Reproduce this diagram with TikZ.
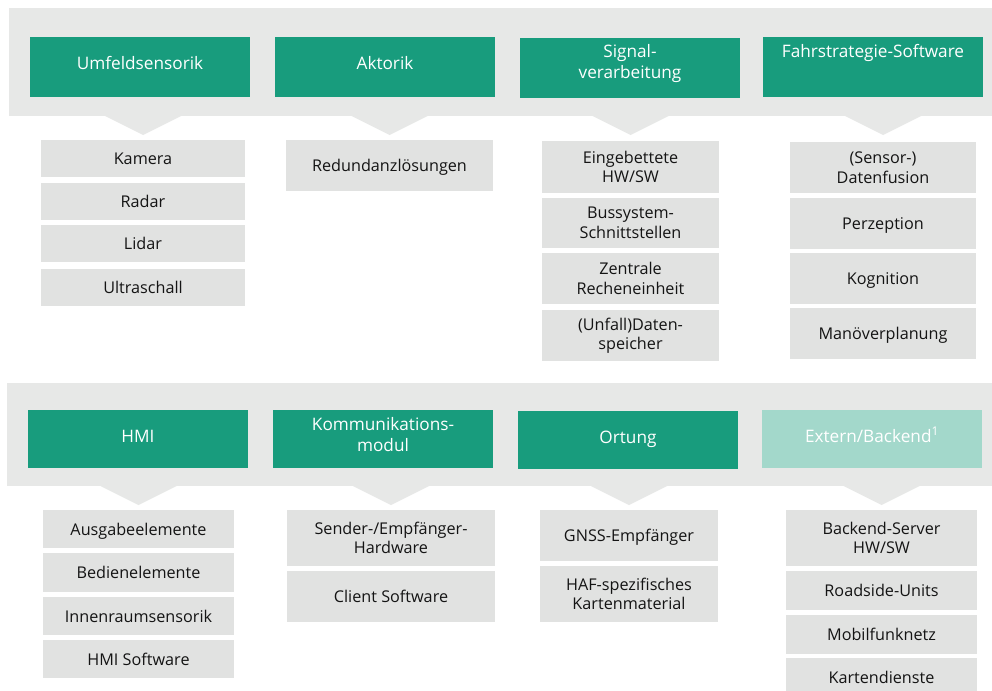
\documentclass[tikz,border=0pt]{standalone}
\usepackage{fontspec}
\setmainfont{Open Sans}
\usetikzlibrary{calc}
\definecolor{bandgray}{RGB}{231,232,231}
\definecolor{itemgray}{RGB}{225,226,225}
\definecolor{headgreen}{RGB}{24,156,125}
\definecolor{headlight}{RGB}{163,216,203}
\definecolor{itemtext}{RGB}{20,20,20}
\tikzset{
  band/.style={fill=bandgray, draw=none, inner sep=0pt, outer sep=0pt, anchor=north west},
  headfont/.style={font=\fontsize{17.2}{20.5}\selectfont},
  head/.style={fill=headgreen, draw=none, text=white, inner sep=0pt, outer sep=0pt,
    anchor=north west, minimum width=220pt, align=center, headfont,
    text height=12pt, text depth=6pt},
  headext/.style={head, fill=headlight},
  headtext/.style={text=white, inner sep=0pt, align=center, headfont},
  item/.style={fill=itemgray, draw=none, text=itemtext, inner sep=0pt, outer sep=0pt,
    anchor=north west, align=center, font=\fontsize{16.2}{19.5}\selectfont},
  oneline/.style={text height=12pt, text depth=0pt},
}
% downward pointer below a band, centred over a column of items
\newcommand\drawpointer[2]{%
  \fill[bandgray] ($(#1.south -| #2.north)+(-38,0)$) -- ($(#1.south -| #2.north)+(38,0)$)
    -- ($(#1.south -| #2.north)+(0,19)$) -- cycle;}
\begin{document}
\begin{tikzpicture}[x=1pt,y=-1pt]
\useasboundingbox[fill=white] (0,0) rectangle (992,690);

% ---------- upper group ----------
\node[band, minimum width=983pt, minimum height=108pt] (topband) at (9,8) {};
\node[head, minimum height=60pt] (umfeld) at (30,37) {Umfeldsensorik};
\node[head, minimum height=60pt] (aktorik) at (275,37) {Aktorik};
\node[head, minimum height=60pt] (signal) at (520,38) {};
\node[headtext] (signaltext) at ($(signal.center)+(0,-4.5)$) {Signal-\\verarbeitung};
\node[head, minimum height=60pt, text depth=30pt] (fahr) at (763,37) {Fahrstrategie-Software};

% Umfeldsensorik items
\node[item, oneline, minimum width=204pt, minimum height=37pt] (kamera) at (41,140) {Kamera};
\node[item, oneline, minimum width=204pt, minimum height=37pt] (radar) at (41,183) {Radar};
\node[item, oneline, minimum width=204pt, minimum height=37pt] (lidar) at (41,225) {Lidar};
\node[item, oneline, minimum width=204pt, minimum height=37pt] (ultra) at (41,269) {Ultraschall};

% Aktorik items
\node[item, oneline, minimum width=207pt, minimum height=51pt] (redund) at (286,140) {Redundanzlösungen};

% Signalverarbeitung items
\node[item, minimum width=177pt, minimum height=52pt] (eingeb) at (542,141) {Eingebettete\\HW/SW};
\node[item, minimum width=177pt, minimum height=50pt] (bus) at (542,198) {Bussystem-\\Schnittstellen};
\node[item, minimum width=177pt, minimum height=51pt] (zentral) at (542,253) {Zentrale\\Recheneinheit};
\node[item, minimum width=177pt, minimum height=51pt] (unfall) at (542,310) {(Unfall)Daten-\\speicher};

% Fahrstrategie items
\node[item, minimum width=186pt, minimum height=51pt] (fusion) at (790,142) {(Sensor-)\\Datenfusion};
\node[item, oneline, minimum width=186pt, minimum height=51pt] (perz) at (790,198) {Perzeption};
\node[item, oneline, minimum width=186pt, minimum height=51pt] (kogn) at (790,253) {Kognition};
\node[item, oneline, minimum width=186pt, minimum height=51pt] (manoev) at (790,308) {Manöverplanung};

\drawpointer{topband}{kamera}
\drawpointer{topband}{redund}
\drawpointer{topband}{eingeb}
\drawpointer{topband}{fusion}

% ---------- lower group ----------
\node[band, minimum width=985pt, minimum height=103pt] (botband) at (7,383) {};
\node[head, minimum height=58pt] (hmi) at (28,410) {HMI};
\node[head, minimum height=58pt] (komm) at (273,410) {};
\node[headtext] (kommtext) at ($(komm.center)+(0,-4.5)$) {Kommunikations-\\modul};
\node[head, minimum height=58pt] (ortung) at (518,411) {Ortung};
\node[headext, minimum height=58pt] (extern) at (762,410) {Extern/Backend\textsuperscript{1}};

% HMI items
\node[item, oneline, minimum width=191pt, minimum height=38pt] (ausgabe) at (43,510) {Ausgabeelemente};
\node[item, oneline, minimum width=191pt, minimum height=39pt] (bedien) at (43,553) {Bedienelemente};
\node[item, oneline, minimum width=191pt, minimum height=38pt] (innen) at (43,597) {Innenraumsensorik};
\node[item, oneline, minimum width=191pt, minimum height=38pt] (hmisw) at (43,640) {HMI Software};

% Kommunikationsmodul items
\node[item, minimum width=208pt, minimum height=56pt] (sender) at (287,510) {Sender-/Empfänger-\\Hardware};
\node[item, oneline, minimum width=208pt, minimum height=51pt] (client) at (287,571) {Client Software};

% Ortung items
\node[item, oneline, minimum width=178pt, minimum height=51pt] (gnss) at (540,510) {GNSS-Empfänger};
\node[item, minimum width=178pt, minimum height=56pt] (haf) at (540,566) {HAF-spezifisches\\Kartenmaterial};

% Extern/Backend items
\node[item, minimum width=191pt, minimum height=56pt] (server) at (786,510) {Backend-Server\\HW/SW};
\node[item, oneline, minimum width=191pt, minimum height=39pt] (roadside) at (786,571) {Roadside-Units};
\node[item, oneline, minimum width=191pt, minimum height=39pt] (mobil) at (786,615) {Mobilfunknetz};
\node[item, oneline, minimum width=191pt, minimum height=38pt] (karten) at (786,658) {Kartendienste};

\drawpointer{botband}{ausgabe}
\drawpointer{botband}{sender}
\drawpointer{botband}{gnss}
\drawpointer{botband}{server}
\end{tikzpicture}
\end{document}
